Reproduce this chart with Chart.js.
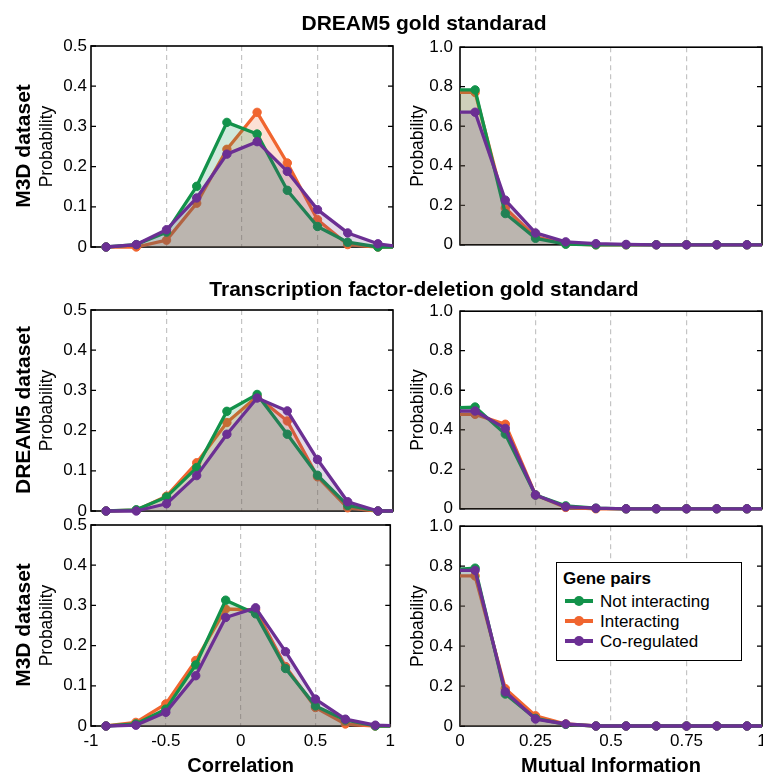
<!DOCTYPE html>
<html><head><meta charset="utf-8">
<script src="https://cdn.jsdelivr.net/npm/chart.js@4.4.0/dist/chart.umd.min.js"></script>
<style>
html,body{margin:0;padding:0;width:763px;height:774px;overflow:hidden;background:#fff;font-family:"Liberation Sans",Arial,sans-serif;}
#wrap{position:relative;width:763px;height:774px;overflow:hidden;}
canvas{position:absolute;}
.txt{position:absolute;white-space:nowrap;color:#000;line-height:1;}
.title{font-weight:bold;font-size:21px;transform:translate(-50%,-50%);}
.row{font-weight:bold;font-size:21px;transform:translate(-50%,-50%) rotate(-90deg);}
#legend{position:absolute;left:556px;top:562px;width:184px;height:97px;border:1.5px solid #000;background:#fff;}
#legend .lt{position:absolute;left:6px;top:15px;transform:translateY(-50%);font-weight:bold;font-size:17px;line-height:1;}
#legend .li{position:absolute;left:0;width:184px;height:0;}
#legend .ln{position:absolute;left:8px;width:28px;height:4px;top:-2px;}
#legend .mk{position:absolute;left:17px;width:10px;height:10px;top:-5px;border-radius:50%;}
#legend .lb{position:absolute;left:43px;top:0;transform:translateY(-50%);font-size:17px;line-height:1;}
</style>
</head>
<body>
<div id="wrap">
  <canvas id="c1"></canvas><canvas id="c2"></canvas>
  <canvas id="c3"></canvas><canvas id="c4"></canvas>
  <canvas id="c5"></canvas><canvas id="c6"></canvas>
  <div class="txt title" style="left:424px;top:22px;">DREAM5 gold standarad</div>
  <div class="txt title" style="left:424px;top:288px;">Transcription factor-deletion gold standard</div>
  <div class="txt row" style="left:22px;top:146px;">M3D dataset</div>
  <div class="txt row" style="left:22px;top:410px;">DREAM5 dataset</div>
  <div class="txt row" style="left:22px;top:625px;">M3D dataset</div>
  <div id="legend">
    <div class="lt">Gene pairs</div>
    <div class="li" style="top:38px;"><div class="ln" style="background:#12924a"></div><div class="mk" style="background:#12924a"></div><div class="lb">Not interacting</div></div>
    <div class="li" style="top:58px;"><div class="ln" style="background:#f0652f"></div><div class="mk" style="background:#f0652f"></div><div class="lb">Interacting</div></div>
    <div class="li" style="top:78px;"><div class="ln" style="background:#6b2f93"></div><div class="mk" style="background:#6b2f93"></div><div class="lb">Co-regulated</div></div>
  </div>
</div>
<script>
// ---------- data ----------
const seriesNames = ['Not interacting', 'Interacting', 'Co-regulated'];

const corrBins = [-0.9, -0.7, -0.5, -0.3, -0.1, 0.1, 0.3, 0.5, 0.7, 0.9, 1.0];
const miBins = [0, 0.05, 0.15, 0.25, 0.35, 0.45, 0.55, 0.65, 0.75, 0.85, 0.95, 1.0];

const corrTickLabels = ['-1', '-0.5', '0', '0.5', '1'];
const miTickLabels = ['0', '0.25', '0.5', '0.75', '1'];
const corrProbLabels = ['0', '0.1', '0.2', '0.3', '0.4', '0.5'];
const miProbLabels = ['0', '0.2', '0.4', '0.6', '0.8', '1.0'];

// DREAM5 gold standard, M3D dataset
const gsM3dCorrNot = [0, 0.006, 0.037, 0.151, 0.310, 0.281, 0.141, 0.051, 0.012, 0, 0];
const gsM3dCorrInt = [0, 0, 0.017, 0.109, 0.243, 0.335, 0.209, 0.068, 0.006, 0, 0];
const gsM3dCorrCo  = [0, 0.006, 0.043, 0.122, 0.231, 0.262, 0.188, 0.093, 0.035, 0.008, 0.003];
const gsM3dMiNot = [0.784, 0.784, 0.158, 0.033, 0.003, 0, 0, 0, 0, 0, 0, 0];
const gsM3dMiInt = [0.771, 0.771, 0.186, 0.040, 0.005, 0, 0, 0, 0, 0, 0, 0];
const gsM3dMiCo  = [0.671, 0.671, 0.226, 0.060, 0.015, 0.006, 0.002, 0, 0, 0, 0, 0];

// TF-deletion gold standard, DREAM5 dataset
const tfD5CorrNot = [0, 0.003, 0.035, 0.108, 0.248, 0.290, 0.191, 0.089, 0.014, 0, 0];
const tfD5CorrInt = [0, 0.002, 0.037, 0.120, 0.220, 0.285, 0.224, 0.085, 0.008, 0, 0];
const tfD5CorrCo  = [0, 0, 0.018, 0.088, 0.191, 0.281, 0.249, 0.128, 0.023, 0, 0];
const tfD5MiNot = [0.512, 0.515, 0.378, 0.070, 0.015, 0.003, 0, 0, 0, 0, 0, 0];
const tfD5MiInt = [0.478, 0.478, 0.428, 0.070, 0.007, 0, 0, 0, 0, 0, 0, 0];
const tfD5MiCo  = [0.495, 0.495, 0.407, 0.070, 0.010, 0.003, 0, 0, 0, 0, 0, 0];

// TF-deletion gold standard, M3D dataset
const tfM3dCorrNot = [0, 0.005, 0.042, 0.152, 0.313, 0.279, 0.143, 0.050, 0.015, 0, 0];
const tfM3dCorrInt = [0, 0.009, 0.055, 0.163, 0.291, 0.289, 0.148, 0.046, 0.005, 0, 0];
const tfM3dCorrCo  = [0, 0.002, 0.034, 0.125, 0.270, 0.294, 0.185, 0.067, 0.017, 0.002, 0.001];
const tfM3dMiNot = [0.785, 0.790, 0.160, 0.038, 0.008, 0, 0, 0, 0, 0, 0, 0];
const tfM3dMiInt = [0.751, 0.751, 0.187, 0.051, 0.010, 0, 0, 0, 0, 0, 0, 0];
const tfM3dMiCo  = [0.779, 0.779, 0.171, 0.035, 0.010, 0, 0, 0, 0, 0, 0, 0];

// ---------- styling ----------
const FONT = "'Liberation Sans', Arial, sans-serif";
Chart.defaults.font.family = FONT;
Chart.defaults.color = '#000';
const colors = ['#12924a', '#f0652f', '#6b2f93'];
const fills = ['rgba(18,146,74,0.2)', 'rgba(240,101,47,0.2)', 'rgba(100,60,130,0.19)'];
const drawOrder = [1, 2, 0];

const framePlugin = {
  id: 'frame',
  beforeDatasetsDraw(chart) {
    const {ctx, chartArea: a} = chart;
    const ys = chart.scales.y;
    ctx.save();
    ctx.strokeStyle = '#000';
    ctx.lineWidth = 1.6;
    ctx.strokeRect(a.left, a.top, a.right - a.left, a.bottom - a.top);
    ctx.lineWidth = 1.3;
    ys.ticks.forEach(t => {
      const y = ys.getPixelForValue(t.value);
      ctx.beginPath();
      ctx.moveTo(a.left, y); ctx.lineTo(a.left + 5, y);
      ctx.moveTo(a.right, y); ctx.lineTo(a.right - 5, y);
      ctx.stroke();
    });
    ctx.restore();
  }
};

function makePanel(id, cfg) {
  const cv = document.getElementById(id);
  cv.width = cfg.w; cv.height = cfg.h;
  cv.style.left = cfg.x + 'px'; cv.style.top = cfg.y + 'px';
  cv.style.width = cfg.w + 'px'; cv.style.height = cfg.h + 'px';
  const datasets = cfg.series.map((vals, i) => ({
    label: seriesNames[i],
    data: vals.map((v, k) => ({x: cfg.bins[k], y: v})),
    borderColor: colors[i],
    backgroundColor: fills[i],
    pointBackgroundColor: colors[i],
    pointBorderColor: colors[i],
    pointBorderWidth: 1,
    pointRadius: ctx => cfg.hidePts.includes(ctx.dataIndex) ? 0 : 4.2,
    borderWidth: 3.3,
    borderJoinStyle: 'round',
    tension: 0,
    fill: 'origin',
    clip: false,
    order: drawOrder[i]
  }));
  const xMin = cfg.xMin, xMax = cfg.xMax;
  return new Chart(cv, {
    type: 'line',
    data: {datasets},
    options: {
      responsive: false,
      animation: false,
      layout: {padding: {left: cfg.padL, right: cfg.padR, top: 16, bottom: 0}},
      plugins: {legend: {display: false}, tooltip: {enabled: false}},
      scales: {
        x: {
          type: 'linear', min: xMin, max: xMax,
          ticks: {
            display: cfg.showX, stepSize: cfg.xStep, padding: 5,
            font: {size: 17}, color: '#000', maxRotation: 0,
            callback: (v, i) => cfg.xLabels[i]
          },
          grid: {
            drawTicks: false, lineWidth: 1.2,
            color: c => (c.tick && (Math.abs(c.tick.value - xMin) < 1e-6 || Math.abs(c.tick.value - xMax) < 1e-6)) ? 'rgba(0,0,0,0)' : '#c4c4c4'
          },
          border: {display: false, dash: [5, 4]},
          title: cfg.showX ? {display: true, text: cfg.xTitle, font: {size: 20, weight: 'bold'}, padding: 0, color: '#000'} : {display: false},
          afterFit: s => { s.height = cfg.xH; }
        },
        y: {
          min: 0, max: cfg.yMax,
          ticks: {stepSize: cfg.yStep, padding: cfg.yPad, font: {size: 17}, color: '#000', callback: (v, i) => cfg.yLabels[i]},
          grid: {display: false, drawTicks: false},
          border: {display: false},
          title: {display: true, text: 'Probability', font: {size: 17.5}, padding: 0, color: '#000'},
          afterFit: s => { s.width = cfg.yW; }
        }
      }
    },
    plugins: [framePlugin]
  });
}

const leftCol = {x: 0, w: 400, padL: 36.5, padR: 7, yW: 54.5, yPad: 4,
  bins: corrBins, hidePts: [10], xMin: -1, xMax: 1, xStep: 0.5,
  xLabels: corrTickLabels, yLabels: corrProbLabels, yMax: 0.5, yStep: 0.1, xTitle: 'Correlation'};
const rightCol = {x: 380, w: 393, padL: 27.5, padR: 11, yW: 52.5, yPad: 7,
  bins: miBins, hidePts: [0, 11], xMin: 0, xMax: 1, xStep: 0.25,
  xLabels: miTickLabels, yLabels: miProbLabels, yMax: 1, yStep: 0.2, xTitle: 'Mutual Information'};
const rows = [
  {y: 30, h: 232, xH: 15, showX: false},
  {y: 294, h: 232, xH: 15, showX: false},
  {y: 509, h: 269, xH: 52, showX: true}
];

makePanel('c1', Object.assign({}, leftCol, rows[0], {series: [gsM3dCorrNot, gsM3dCorrInt, gsM3dCorrCo]}));
makePanel('c2', Object.assign({}, rightCol, rows[0], {series: [gsM3dMiNot, gsM3dMiInt, gsM3dMiCo]}));
makePanel('c3', Object.assign({}, leftCol, rows[1], {series: [tfD5CorrNot, tfD5CorrInt, tfD5CorrCo]}));
makePanel('c4', Object.assign({}, rightCol, rows[1], {series: [tfD5MiNot, tfD5MiInt, tfD5MiCo]}));
makePanel('c5', Object.assign({}, leftCol, rows[2], {series: [tfM3dCorrNot, tfM3dCorrInt, tfM3dCorrCo]}));
makePanel('c6', Object.assign({}, rightCol, rows[2], {series: [tfM3dMiNot, tfM3dMiInt, tfM3dMiCo]}));
</script>
</body></html>
